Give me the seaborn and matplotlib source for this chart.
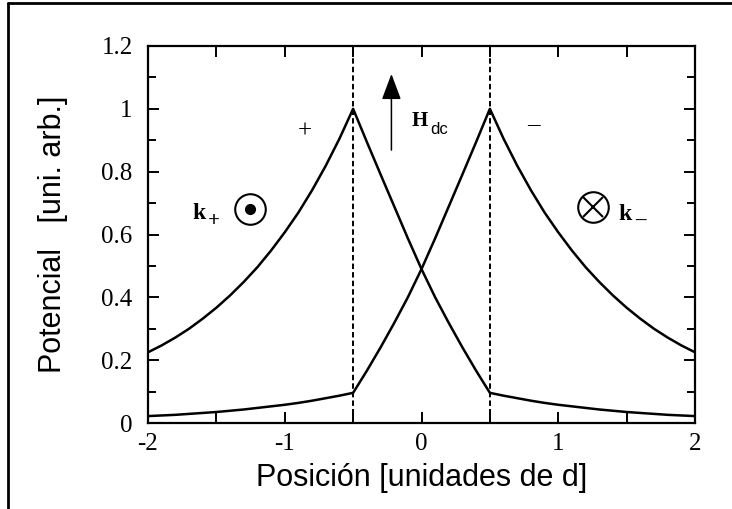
import numpy as np
import pandas as pd
import seaborn as sns
import matplotlib
matplotlib.use("Agg")
import matplotlib.pyplot as plt
from matplotlib.lines import Line2D
from matplotlib.ticker import MultipleLocator

# Position along the structure, in units of d
posicion = [-2.0, -1.9, -1.8, -1.7, -1.6, -1.5, -1.4, -1.3, -1.2, -1.1,
            -1.0, -0.9, -0.8, -0.7, -0.6, -0.5, -0.4, -0.3, -0.2, -0.1,
            0.0, 0.1, 0.2, 0.3, 0.4, 0.5, 0.6, 0.7, 0.8, 0.9,
            1.0, 1.1, 1.2, 1.3, 1.4, 1.5, 1.6, 1.7, 1.8, 1.9, 2.0]

# Potential for the "+" mode (peak at -0.5)
potencial_mas = [0.225, 0.247, 0.272, 0.300, 0.332, 0.367, 0.406, 0.449, 0.496, 0.549,
                 0.607, 0.670, 0.741, 0.819, 0.905, 1.000, 0.895, 0.792, 0.690, 0.588,
                 0.490, 0.400, 0.318, 0.240, 0.166, 0.096, 0.087, 0.079, 0.071, 0.064,
                 0.058, 0.053, 0.048, 0.043, 0.039, 0.035, 0.032, 0.029, 0.026, 0.024, 0.022]

# Potential for the "-" mode (peak at +0.5)
potencial_menos = [0.022, 0.024, 0.026, 0.029, 0.032, 0.035, 0.039, 0.043, 0.048, 0.053,
                   0.058, 0.064, 0.071, 0.079, 0.087, 0.096, 0.166, 0.240, 0.318, 0.400,
                   0.490, 0.588, 0.690, 0.792, 0.895, 1.000, 0.905, 0.819, 0.741, 0.670,
                   0.607, 0.549, 0.496, 0.449, 0.406, 0.367, 0.332, 0.300, 0.272, 0.247, 0.225]

# Interface positions (dashed lines)
interfaces = [-0.5, 0.5]

x_ticks = [-2, -1, 0, 1, 2]
x_tick_labels = ["-2", "-1", "0", "1", "2"]
y_ticks = [0, 0.2, 0.4, 0.6, 0.8, 1.0, 1.2]
y_tick_labels = ["0", "0.2", "0.4", "0.6", "0.8", "1", "1.2"]

df = pd.DataFrame({
    "x": posicion * 2,
    "v": potencial_mas + potencial_menos,
    "modo": ["+"] * len(posicion) + ["-"] * len(posicion),
})

sns.set_theme(style="ticks")
plt.rcParams["font.family"] = ["Liberation Serif", "DejaVu Serif"]

fig = plt.figure(figsize=(7.32, 5.09), dpi=100)
ax = fig.add_axes([148 / 732, 86 / 509, 547 / 732, 377 / 509])

sns.lineplot(data=df, x="x", y="v", hue="modo", palette=["black", "black"],
             linewidth=1.8, legend=False, ax=ax, sort=False, estimator=None)

for xi in interfaces:
    ax.axvline(xi, color="black", lw=1.4, ls=(0, (2.8, 1.6)), zorder=1)

ax.set_xlim(-2, 2)
ax.set_ylim(0, 1.2)
ax.set_xticks(x_ticks)
ax.set_xticklabels(x_tick_labels)
ax.set_yticks(y_ticks)
ax.set_yticklabels(y_tick_labels)
ax.xaxis.set_minor_locator(MultipleLocator(0.5))
ax.yaxis.set_minor_locator(MultipleLocator(0.1))
ax.tick_params(axis="both", which="both", direction="in", top=True, right=True,
               color="black", width=1.4, labelcolor="black")
ax.tick_params(axis="both", which="major", length=8, labelsize=18)
ax.tick_params(axis="x", which="minor", length=8)
ax.tick_params(axis="y", which="minor", length=6)
ax.tick_params(axis="y", which="major", pad=11)
ax.tick_params(axis="x", which="major", pad=7)
for s in ax.spines.values():
    s.set_linewidth(1.6)
    s.set_color("black")

sans = ["Liberation Sans", "DejaVu Sans"]
ax.set_xlabel("Posición [unidades de d]", fontsize=22, family=sans, labelpad=6, color="black")
ax.set_ylabel("Potencial   [uni. arb.]", fontsize=22, family=sans, labelpad=24, color="black")

# Mode labels
ax.text(-0.85, 0.927, "+", fontsize=18, ha="center", va="center", color="black")
ax.text(0.82, 0.952, "–", fontsize=18, ha="center", va="center", color="black")

# Applied field arrow
ax.annotate("", xy=(-0.22, 1.12), xytext=(-0.22, 0.86),
            arrowprops=dict(arrowstyle="-|>,head_length=0.8,head_width=0.3",
                            lw=1.1, color="black", mutation_scale=20))
ax.text(-0.07, 0.962, "H", fontsize=15, weight="bold", ha="left", va="center", color="black")
ax.text(0.065, 0.935, "dc", fontsize=12, family=sans, ha="left", va="center", color="black")

# Wave vectors
ax.text(-1.63, 0.668, "k", fontsize=17, weight="bold", ha="center", va="center", color="black")
ax.text(-1.52, 0.643, "+", fontsize=15, weight="bold", ha="center", va="center", color="black")
ax.text(1.49, 0.665, "k", fontsize=17, weight="bold", ha="center", va="center", color="black")
ax.text(1.60, 0.643, "–", fontsize=15, weight="bold", ha="center", va="center", color="black")

# Out-of-plane / into-plane symbols
ax.plot([-1.253], [0.68], marker="o", ms=22, mfc="none", mec="black", mew=1.5)
ax.plot([-1.253], [0.68], marker="o", ms=7, mfc="black", mec="black")
ax.plot([1.253], [0.687], marker="o", ms=22, mfc="none", mec="black", mew=1.5)
ax.plot([1.253], [0.687], marker="x", ms=15, mec="black", mew=1.5)

# Outer border lines
fig.add_artist(Line2D([8 / 732, 1], [1 - 3 / 509, 1 - 3 / 509], transform=fig.transFigure,
                      color="black", lw=2))
fig.add_artist(Line2D([8 / 732, 8 / 732], [0, 1 - 3 / 509], transform=fig.transFigure,
                      color="black", lw=2))

fig.savefig("out.png", dpi=100, facecolor="white")
